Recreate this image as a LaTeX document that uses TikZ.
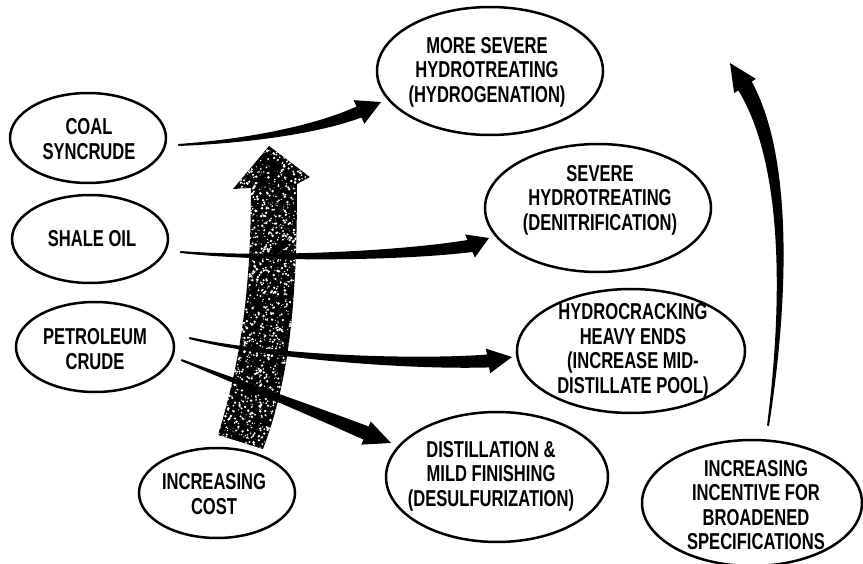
\documentclass[tikz,border=0pt]{standalone}
\usepackage{fontspec}
\newfontfamily\lbl{Liberation Sans}[FakeStretch=0.72]
\usetikzlibrary{shapes.geometric,calc}
\newcommand\taperarrow[8]{%
  \fill[arrowfill] ($(#1)!#8!90:(#2)$) .. controls ($(#2)!0.35*#6!90:(#3)$) and ($(#3)!0.75*#6!90:(#4)$) .. ($(#4)!#6!90:(#5)$)
    -- ($(#4)!#7!90:(#5)$) -- (#5) -- ($(#4)!#7!-90:(#5)$) -- ($(#4)!#6!-90:(#5)$)
    .. controls ($(#3)!0.75*#6!-90:(#4)$) and ($(#2)!0.35*#6!-90:(#3)$) .. ($(#1)!#8!-90:(#2)$) -- cycle;}
\begin{document}
\begin{tikzpicture}[x=1pt,y=-1pt,
  oval/.style={ellipse,draw=black,line width=2.5pt,fill=white,inner sep=0pt},
  lab/.style={font=\lbl\bfseries\fontsize{23}{24.5}\selectfont,align=center,inner sep=0pt},
  arrowfill/.style={fill=black}]
\fill[white] (0,0) rectangle (863,564);
\useasboundingbox (0,0) rectangle (863,564);

% big mottled arrow (increasing cost)
\coordinate (bl) at (218,435);
\coordinate (br) at (263,449);
\coordinate (tip) at (269,146);
\begin{scope}
  \clip (bl) .. controls (238,370) and (251,300) .. (251,188) -- (233,189) -- (tip) -- (310,177) -- (297,184)
        .. controls (297,300) and (290,378) .. (br) -- cycle;
  \fill[black] (200,130) rectangle (320,460);
  \pgfmathsetseed{11}
  \foreach \i in {1,...,2200}{
    \fill[white] (214+rnd*100,150+rnd*305) circle (0.35+rnd*1.1);
  }
\end{scope}

% ellipses
\node[oval,minimum width=156pt,minimum height=90pt] (coal) at (88,138) {};
\node[oval,minimum width=156pt,minimum height=88pt] (shale) at (90,239) {};
\node[oval,minimum width=158pt,minimum height=90pt] (petro) at (95,347) {};
\node[oval,minimum width=156pt,minimum height=90pt] (cost) at (217,493) {};
\node[oval,minimum width=226pt,minimum height=128pt] (hydrog) at (490,71) {};
\node[oval,minimum width=226pt,minimum height=128pt] (denit) at (598,208) {};
\node[oval,minimum width=228pt,minimum height=124pt] (hcrack) at (631,351) {};
\node[oval,minimum width=222pt,minimum height=130pt] (dist) at (497,477) {};
\node[oval,minimum width=220pt,minimum height=126pt] (incent) at (752,503) {};

% labels
\node[lab] (coal-t) at (89,139) {COAL\\SYNCRUDE};
\node[lab] (shale-t) at (92,239) {SHALE OIL};
\node[lab] (petro-t) at (95,349) {PETROLEUM\\CRUDE};
\node[lab] (cost-t) at (214,494) {INCREASING\\COST};
\node[lab] (hydrog-t) at (487,72) {MORE SEVERE\\HYDROTREATING\\(HYDROGENATION)};
\node[lab] (denit-t) at (600,200) {SEVERE\\HYDROTREATING\\(DENITRIFICATION)};
\node[lab] (hcrack-t) at (633,351) {HYDROCRACKING\\HEAVY ENDS\\(INCREASE MID-\\DISTILLATE POOL)};
\node[lab] (dist-t) at (491,476) {DISTILLATION \&\\MILD FINISHING\\(DESULFURIZATION)};
\node[lab] (incent-t) at (756,505) {INCREASING\\INCENTIVE FOR\\BROADENED\\SPECIFICATIONS};

% tapered connectors
\coordinate (a1s) at ($(coal.east)+(11,7)$);
\coordinate (a1c1) at (250,141);
\coordinate (a1c2) at (318,129);
\coordinate (a1b) at (359,112);
\coordinate (a1t) at (381,102);
\taperarrow{a1s}{a1c1}{a1c2}{a1b}{a1t}{6pt}{13pt}{1pt}

\coordinate (a2s) at ($(shale.east)+(11,13)$);
\coordinate (a2c1) at (265,260);
\coordinate (a2c2) at (400,256);
\coordinate (a2b) at (470,246);
\coordinate (a2t) at (489,238);
\taperarrow{a2s}{a2c1}{a2c2}{a2b}{a2t}{6.5pt}{12.5pt}{1pt}

\coordinate (a3s) at ($(petro.east)+(14,-9)$);
\coordinate (a3c1) at (268,357);
\coordinate (a3c2) at (410,365);
\coordinate (a3b) at (488,361);
\coordinate (a3t) at (512,357);
\taperarrow{a3s}{a3c1}{a3c2}{a3b}{a3t}{6.5pt}{12.5pt}{1pt}

\coordinate (a4s) at ($(petro.east)+(6,13)$);
\coordinate (a4c1) at (240,383);
\coordinate (a4c2) at (310,410);
\coordinate (a4b) at (366,433);
\coordinate (a4t) at (391,443);
\taperarrow{a4s}{a4c1}{a4c2}{a4b}{a4t}{7pt}{12.5pt}{1pt}

\coordinate (a5s) at ($(incent.north)+(16,-13)$);
\coordinate (a5c1) at (786,300);
\coordinate (a5c2) at (788,160);
\coordinate (a5b) at (745,86);
\coordinate (a5t) at (730,63);
\taperarrow{a5s}{a5c1}{a5c2}{a5b}{a5t}{8pt}{13pt}{1pt}
\end{tikzpicture}
\end{document}
